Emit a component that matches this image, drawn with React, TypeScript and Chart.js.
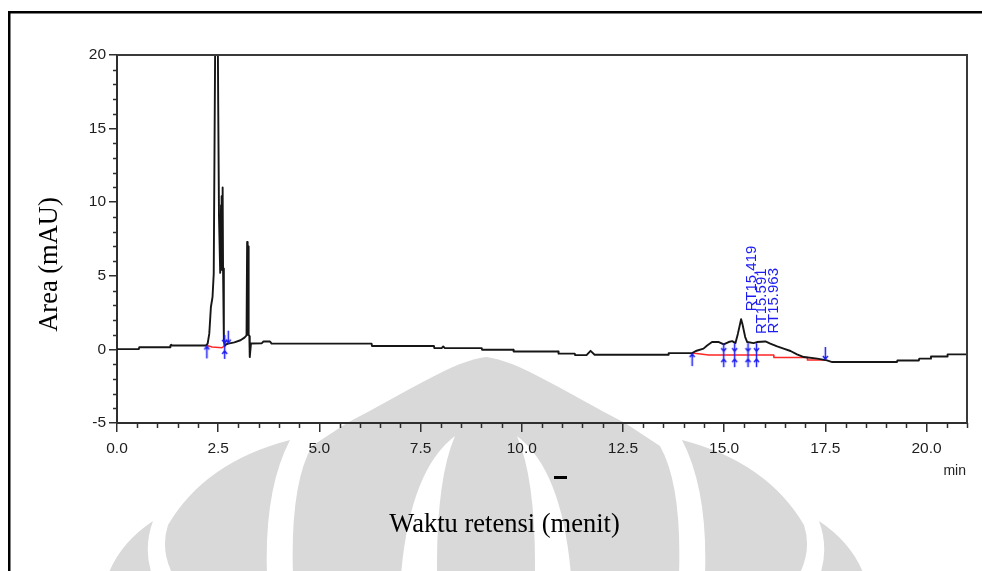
import { useEffect, useRef } from 'react';
import { Chart, registerables } from 'chart.js';

Chart.register(...registerables);

// Chromatogram trace: retention time (min) and detector response (mAU)
const traceTime = [
  0.0, 0.54, 0.55, 1.31, 1.32, 1.34, 1.36, 2.2, 2.24, 2.28, 2.32, 2.36, 2.39,
  2.46, 2.5, 2.52, 2.55, 2.57, 2.58, 2.59, 2.6, 2.61, 2.62, 2.64, 2.66, 2.7, 2.75,
  2.9, 3.05, 3.15, 3.2, 3.215, 3.22, 3.225, 3.23, 3.235, 3.24, 3.245, 3.25, 3.255,
  3.26, 3.27, 3.28, 3.31, 3.58,
  3.62, 3.78, 3.82, 6.29, 6.3, 7.83, 7.84, 8.02, 8.06, 8.1, 9.01, 9.02, 9.79,
  9.8, 10.9, 10.91, 11.31, 11.32, 11.6, 11.7, 11.8, 13.62, 13.63, 14.21, 14.3,
  14.49, 14.58, 14.7, 14.87, 14.99, 15.11, 15.2, 15.28, 15.34, 15.419, 15.45,
  15.52, 15.57, 15.73, 15.81, 16.02, 16.14, 16.31, 16.47, 16.64, 16.8, 16.97,
  17.3, 17.54, 17.67, 19.27, 19.28, 19.81, 19.82, 20.1, 20.11, 20.51, 20.52,
  21.0, 21.06, 21.14,
];
const traceSignal = [
  0.02, 0.02, 0.15, 0.15, 0.27, 0.32, 0.27, 0.27, 0.4, 1.07, 2.88, 3.56, 5.15,
  36.0, 16.8, 9.0, 5.2, 9.8, 5.4, 10.4, 5.6, 11.0, 5.5, 0.6, 0.25, 0.35, 0.39,
  0.48, 0.62, 0.8, 0.95, 7.3, 1.2, 7.2, 1.0, 7.1, 1.1, 7.0, 1.0, 6.9,
  1.0, 0.9, -0.52, 0.4, 0.42,
  0.54, 0.54, 0.39, 0.39, 0.23, 0.23, 0.09, 0.09, 0.2, 0.09, 0.09, -0.02, -0.02,
  -0.14, -0.14, -0.29, -0.29, -0.39, -0.39, -0.1, -0.36, -0.36, -0.25, -0.25, -0.11,
  0.05, 0.27, 0.5, 0.5, 0.34, 0.5, 0.56, 0.43, 1.07, 2.05, 1.75,
  0.84, 0.5, 0.43, 0.5, 0.54, 0.39, 0.2, 0.05, -0.11, -0.34, -0.52,
  -0.63, -0.75, -0.86, -0.86, -0.75, -0.75, -0.63, -0.63, -0.48, -0.48, -0.34,
  -0.34, -0.6, -1.2,
];

// Integration baselines (null separates the two peak groups)
const baselineTime = [2.22, 2.35, 2.59, 2.67, 2.7, 14.21, 14.62, 16.22, 16.23, 17.05, 17.06, 17.5];
const baselineSignal = [0.27, 0.16, 0.11, 0.27, null, -0.25, -0.38, -0.38, -0.55, -0.55, -0.72, -0.72];

// Peak event markers
const peakStartTime = [2.22, 14.21];
const peakStartSignal = [0.27, -0.25];
const peakEndTime = [2.75, 17.5];
const peakEndSignal = [0.39, -0.72];
const peakSplitTime = [2.66, 14.99, 15.26, 15.59, 15.8];
const peakSplitSignal = [0.17, -0.39, -0.39, -0.39, -0.39];

// Labelled retention times and the response at each
const labelledRT = [15.419, 15.591, 15.963];
const labelledHeight = [2.05, 0.5, 0.53];
const labelledText = ['RT15.419', 'RT15.591', 'RT15.963'];

// Axis ticks
const xTicks = [0, 2.5, 5, 7.5, 10, 12.5, 15, 17.5, 20];
const yTicks = [-5, 0, 5, 10, 15, 20];
const xMinorStep = 0.5;
const yMinorStep = 1;

const AXIS = '#2e2e2e';
const TRACE = '#161616';
const MARK = '#1c1cf2';
const INTEGRATION = '#ff2626';
const WATERMARK = '#d9d9d9';
const SANS = '"Liberation Sans", Arial, sans-serif';
const SERIF = '"Liberation Serif", "Times New Roman", serif';

const zip = (xs: number[], ys: (number | null)[]) => xs.map((x, i) => ({ x, y: ys[i] }));

function markerImage(kind: 'up' | 'down' | 'split'): HTMLCanvasElement {
  const c = document.createElement('canvas');
  c.width = 9;
  c.height = kind === 'split' ? 26 : 28;
  const g = c.getContext('2d') as CanvasRenderingContext2D;
  g.strokeStyle = MARK;
  g.lineWidth = 1.5;
  const x = 4.5;
  const seg = (pts: number[][]) => {
    g.beginPath();
    g.moveTo(pts[0][0], pts[0][1]);
    for (let i = 1; i < pts.length; i++) g.lineTo(pts[i][0], pts[i][1]);
    g.stroke();
  };
  if (kind === 'up') {
    seg([[x, 14], [x, 27]]);
    seg([[x - 2.5, 18], [x, 15], [x + 2.5, 18]]);
  } else if (kind === 'down') {
    seg([[x, 1], [x, 14]]);
    seg([[x - 2.5, 10], [x, 13], [x + 2.5, 10]]);
  } else {
    seg([[x, 1], [x, 25]]);
    seg([[x - 2.5, 6], [x, 9], [x + 2.5, 6]]);
    seg([[x - 2.5, 20], [x, 17], [x + 2.5, 20]]);
  }
  return c;
}

function drawWatermark(ctx: CanvasRenderingContext2D) {
  ctx.save();
  ctx.fillStyle = WATERMARK;
  ctx.beginPath();
  ctx.moveTo(293, 575);
  ctx.quadraticCurveTo(290, 485, 312, 446);
  ctx.lineTo(347, 423);
  ctx.bezierCurveTo(405, 393, 455, 360, 486, 357);
  ctx.bezierCurveTo(517, 360, 567, 393, 625, 423);
  ctx.lineTo(660, 446);
  ctx.quadraticCurveTo(682, 485, 679, 575);
  ctx.closePath();
  ctx.fill();
  const side = () => {
    ctx.fillStyle = WATERMARK;
    ctx.beginPath();
    ctx.moveTo(290, 440);
    ctx.quadraticCurveTo(205, 462, 168, 525);
    ctx.quadraticCurveTo(160, 550, 173, 575);
    ctx.lineTo(267, 575);
    ctx.quadraticCurveTo(264, 490, 290, 440);
    ctx.fill();
    ctx.beginPath();
    ctx.moveTo(153, 521);
    ctx.quadraticCurveTo(120, 543, 108, 575);
    ctx.lineTo(152, 575);
    ctx.quadraticCurveTo(143, 548, 153, 521);
    ctx.fill();
    ctx.fillStyle = '#ffffff';
    ctx.beginPath();
    ctx.moveTo(455, 436);
    ctx.quadraticCurveTo(410, 470, 401, 575);
    ctx.lineTo(437, 575);
    ctx.quadraticCurveTo(436, 480, 455, 436);
    ctx.fill();
  };
  side();
  ctx.translate(972, 0);
  ctx.scale(-1, 1);
  side();
  ctx.restore();
}

const decorations = {
  id: 'decorations',
  beforeDraw(chart: any) {
    const ctx: CanvasRenderingContext2D = chart.ctx;
    drawWatermark(ctx);
    // page frame
    ctx.save();
    ctx.fillStyle = '#000';
    ctx.fillRect(8, 11, 2.5, 560);
    ctx.fillRect(8, 11, 974, 2.5);
    ctx.restore();
  },
  afterDraw(chart: any) {
    const ctx: CanvasRenderingContext2D = chart.ctx;
    const { left, right, top, bottom } = chart.chartArea;
    const xs = chart.scales.x;
    const ys = chart.scales.y;
    ctx.save();
    ctx.strokeStyle = AXIS;
    ctx.lineWidth = 1.5;
    // minor ticks
    ctx.beginPath();
    for (let v = xs.min; v <= xs.max + 1e-6; v += xMinorStep) {
      const r = Math.round(v * 10) / 10;
      if (xTicks.includes(r)) continue;
      const px = Math.round(xs.getPixelForValue(r)) + 0.5;
      ctx.moveTo(px, bottom);
      ctx.lineTo(px, bottom + 5);
    }
    for (let v = ys.min; v <= ys.max + 1e-6; v += yMinorStep) {
      const r = Math.round(v);
      if (yTicks.includes(r)) continue;
      const py = Math.round(ys.getPixelForValue(r)) + 0.5;
      ctx.moveTo(left - 4, py);
      ctx.lineTo(left, py);
    }
    ctx.stroke();
    // top and right frame of the plot
    ctx.lineWidth = 2;
    ctx.strokeStyle = '#3a3a3a';
    ctx.beginPath();
    ctx.moveTo(left, top);
    ctx.lineTo(right, top);
    ctx.lineTo(right, bottom);
    ctx.stroke();

    // unit label
    ctx.fillStyle = '#222';
    ctx.font = `14px ${SANS}`;
    ctx.textAlign = 'right';
    ctx.textBaseline = 'alphabetic';
    ctx.fillText('min', right - 1, 475);

    // retention-time annotations
    ctx.fillStyle = MARK;
    ctx.font = `15px ${SANS}`;
    ctx.textAlign = 'left';
    let prev = -Infinity;
    labelledRT.forEach((rt, i) => {
      const px = xs.getPixelForValue(rt);
      const py = ys.getPixelForValue(labelledHeight[i]);
      const bx = Math.max(px + 15, prev + 10);
      prev = bx;
      ctx.save();
      ctx.translate(bx, py - 8);
      ctx.rotate(-Math.PI / 2);
      ctx.fillText(labelledText[i], 0, 0);
      ctx.restore();
    });

    // axis titles
    ctx.fillStyle = '#000';
    ctx.font = `26.5px ${SERIF}`;
    ctx.textAlign = 'center';
    ctx.fillText('Waktu retensi (menit)', 504.5, 532);
    ctx.save();
    ctx.translate(56.5, 264.5);
    ctx.rotate(-Math.PI / 2);
    ctx.fillText('Area (mAU)', 0, 0);
    ctx.restore();
    ctx.fillRect(554, 476, 13, 3);
    ctx.restore();
  },
};

export default function App() {
  const ref = useRef<HTMLCanvasElement | null>(null);

  useEffect(() => {
    const canvas = ref.current;
    if (!canvas) return;
    const upImg = markerImage('up');
    const downImg = markerImage('down');
    const splitImg = markerImage('split');

    const chart = new Chart(canvas, {
      type: 'line',
      data: {
        datasets: [
          { label: 'start', data: zip(peakStartTime, peakStartSignal), showLine: false, pointStyle: upImg, pointRadius: 4 } as any,
          { label: 'end', data: zip(peakEndTime, peakEndSignal), showLine: false, pointStyle: downImg, pointRadius: 4 } as any,
          { label: 'split', data: zip(peakSplitTime, peakSplitSignal), showLine: false, pointStyle: splitImg, pointRadius: 4 } as any,
          {
            label: 'signal',
            data: zip(traceTime, traceSignal),
            borderColor: TRACE,
            borderWidth: 1.9,
            borderJoinStyle: 'round',
            pointRadius: 0,
            tension: 0,
            clip: { left: 2, top: 0, right: 10, bottom: 2 },
          } as any,
          {
            label: 'baseline',
            data: zip(baselineTime, baselineSignal),
            borderColor: INTEGRATION,
            borderWidth: 1.5,
            pointRadius: 0,
            tension: 0,
            spanGaps: false,
          } as any,
        ],
      },
      options: {
        animation: false,
        responsive: false,
        devicePixelRatio: 1,
        events: [],
        layout: { padding: { left: 0, right: 15, top: 55, bottom: 0 } },
        plugins: { legend: { display: false }, tooltip: { enabled: false } },
        scales: {
          x: {
            type: 'linear',
            min: 0,
            max: 21,
            afterFit: (s: any) => { s.height = 148; },
            afterBuildTicks: (s: any) => { s.ticks = xTicks.map((value) => ({ value })); },
            ticks: {
              color: '#1e1e1e',
              font: { family: SANS, size: 15.5 },
              padding: 7,
              maxRotation: 0,
              autoSkip: false,
              callback: (v: any) => Number(v).toFixed(1),
            },
            grid: { drawOnChartArea: false, drawTicks: true, tickLength: 9, tickColor: AXIS, tickWidth: 1.5, lineWidth: 1.5 },
            border: { display: true, color: AXIS, width: 2 },
          },
          y: {
            type: 'linear',
            min: -5,
            max: 20,
            afterFit: (s: any) => { s.width = 117; },
            afterBuildTicks: (s: any) => { s.ticks = yTicks.map((value) => ({ value })); },
            ticks: {
              color: '#1e1e1e',
              font: { family: SANS, size: 15.5 },
              padding: 3,
              autoSkip: false,
              callback: (v: any) => String(v),
            },
            grid: { drawOnChartArea: false, drawTicks: true, tickLength: 8, tickColor: AXIS, tickWidth: 1.5, lineWidth: 1.5 },
            border: { display: true, color: AXIS, width: 2 },
          },
        },
      } as any,
      plugins: [decorations],
    });
    return () => chart.destroy();
  }, []);

  return (
    <div style={{ position: 'fixed', left: 0, top: 0, width: 982, height: 571, background: '#fff' }}>
      <canvas ref={ref} width={982} height={571} style={{ display: 'block' }} />
    </div>
  );
}
